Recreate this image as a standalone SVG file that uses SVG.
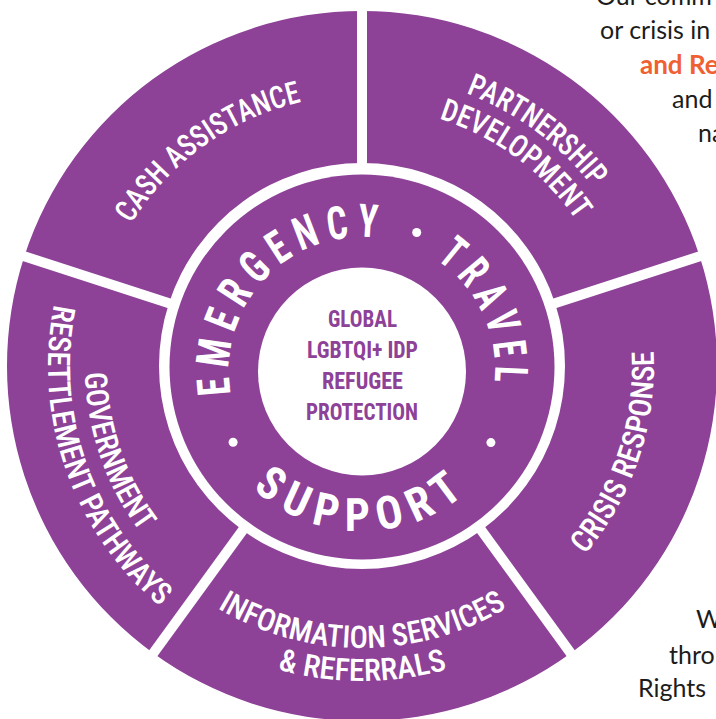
<svg xmlns="http://www.w3.org/2000/svg" width="716" height="719" viewBox="0 0 716 719">
<style>
.bg{fill:#ffffff}
.seg{fill:#8d4197}
.div{stroke:#ffffff;stroke-width:10;fill:none}
.ring{font-family:"Roboto Condensed","Liberation Sans Narrow","Arial Narrow","DejaVu Sans Condensed","Liberation Sans",sans-serif;font-stretch:condensed;fill:#ffffff}
.lab{font-size:31px;font-weight:500}
.big{font-size:46px;font-weight:700;letter-spacing:10px}
.core{font-family:"Roboto Condensed","Liberation Sans Narrow","Arial Narrow","Liberation Sans",sans-serif;font-stretch:condensed;font-size:23px;font-weight:700;fill:#8d4197;text-anchor:middle}
.page{font-family:Lato,"Open Sans","Liberation Sans",sans-serif;font-size:25px;fill:#1c1c1c}
.hl{fill:#ef6033;font-weight:700;font-size:26px}
</style>
<defs>
<path id="cw271" d="M362,637 A271,271 0 1,1 362,95 A271,271 0 1,1 362,637"/>
<path id="cw292" d="M362,658 A292,292 0 1,1 362,74 A292,292 0 1,1 362,658"/>
<path id="cw259" d="M362,625 A259,259 0 1,1 362,107 A259,259 0 1,1 362,625"/>
<path id="ccw292" d="M362,74 A292,292 0 1,0 362,658 A292,292 0 1,0 362,74"/>
<path id="ccw282" d="M362,84 A282,282 0 1,0 362,648 A282,282 0 1,0 362,84"/>
<path id="ccw315" d="M362,51 A315,315 0 1,0 362,681 A315,315 0 1,0 362,51"/>
<path id="ccw277" d="M362,89 A277,277 0 1,0 362,643 A277,277 0 1,0 362,89"/>
<path id="ccw314" d="M362,52 A314,314 0 1,0 362,680 A314,314 0 1,0 362,52"/>
<path id="inTop" d="M362,503 A133,133 0 1,1 362,237 A133,133 0 1,1 362,503"/>
<path id="inBot" d="M201,370 A161,161 0 0,0 523,370"/>
</defs>
<rect class="bg" x="0" y="0" width="716" height="719"/>

<g id="page-text" class="page">
<text x="596" y="5">Our comm</text>
<text x="600" y="39">or crisis in</text>
<text x="640" y="74" class="hl">and Re</text>
<text x="672" y="108">and</text>
<text x="698" y="142">na</text>
<text x="696" y="628">W</text>
<text x="669" y="664">thro</text>
<text x="638" y="697">Rights</text>
</g>

<g id="cash-assistance">
<path class="seg" d="M168.93,303.27 L24.37,256.3 A355,355 0 0,1 362,11 L362,163 A203,203 0 0,0 168.93,303.27 Z"/>
<text class="ring lab"><textPath href="#cw271" startOffset="682.5" text-anchor="middle" textLength="215" lengthAdjust="spacingAndGlyphs">CASH ASSISTANCE</textPath></text>
</g>

<g id="partnership-development">
<path class="seg" d="M362,163 L362,11 A355,355 0 0,1 699.63,256.3 L555.07,303.27 A203,203 0 0,0 362,163 Z"/>
<text class="ring lab"><textPath href="#cw292" startOffset="1103.3" text-anchor="middle" textLength="160" lengthAdjust="spacingAndGlyphs">PARTNERSHIP</textPath></text>
<text class="ring lab"><textPath href="#cw259" startOffset="978.6" text-anchor="middle" textLength="174" lengthAdjust="spacingAndGlyphs">DEVELOPMENT</textPath></text>
</g>

<g id="crisis-response">
<path class="seg" d="M555.07,303.27 L699.63,256.3 A355,355 0 0,1 570.67,653.2 L481.32,530.23 A203,203 0 0,0 555.07,303.27 Z"/>
<text class="ring lab"><textPath href="#ccw292" startOffset="1280.5" text-anchor="middle" textLength="220" lengthAdjust="spacingAndGlyphs">CRISIS RESPONSE</textPath></text>
</g>

<g id="information-services">
<path class="seg" d="M481.32,530.23 L570.67,653.2 A355,355 0 0,1 153.33,653.2 L242.68,530.23 A203,203 0 0,0 481.32,530.23 Z"/>
<text class="ring lab"><textPath href="#ccw282" startOffset="885.9" text-anchor="middle" textLength="304" lengthAdjust="spacingAndGlyphs">INFORMATION SERVICES</textPath></text>
<text class="ring lab"><textPath href="#ccw315" startOffset="989.6" text-anchor="middle" textLength="172" lengthAdjust="spacingAndGlyphs">&amp; REFERRALS</textPath></text>
</g>

<g id="government-resettlement">
<path class="seg" d="M242.68,530.23 L153.33,653.2 A355,355 0 0,1 24.37,256.3 L168.93,303.27 A203,203 0 0,0 242.68,530.23 Z"/>
<text class="ring lab"><textPath href="#ccw277" startOffset="527.5" text-anchor="middle" textLength="171" lengthAdjust="spacingAndGlyphs">GOVERNMENT</textPath></text>
<text class="ring lab"><textPath href="#ccw314" startOffset="599" text-anchor="middle" textLength="336" lengthAdjust="spacingAndGlyphs">RESETTLEMENT PATHWAYS</textPath></text>
</g>

<g id="connectors">
<line class="div" x1="362" y1="168" x2="362" y2="1"/>
<line class="div" x1="550.31" y1="304.81" x2="709.14" y2="253.21"/>
<line class="div" x1="478.38" y1="526.19" x2="576.54" y2="661.29"/>
<line class="div" x1="245.62" y1="526.19" x2="147.46" y2="661.29"/>
<line class="div" x1="173.69" y1="304.81" x2="14.86" y2="253.21"/>
</g>

<g id="emergency-travel-support">
<circle class="seg" cx="362" cy="367" r="192.5"/>
<text class="ring big"><textPath href="#inTop" startOffset="312.5" text-anchor="middle" textLength="256" lengthAdjust="spacingAndGlyphs">EMERGENCY</textPath></text>
<text class="ring big"><textPath href="#inTop" startOffset="570.6" text-anchor="middle" textLength="149" lengthAdjust="spacingAndGlyphs">TRAVEL</textPath></text>
<text class="ring big"><textPath href="#inBot" startOffset="50%" text-anchor="middle" textLength="240" lengthAdjust="spacingAndGlyphs">SUPPORT</textPath></text>
<circle cx="416.7" cy="232.5" r="4.5" fill="#ffffff"/>
<circle cx="490.9" cy="442.6" r="4.5" fill="#ffffff"/>
<circle cx="233.1" cy="442.2" r="4.5" fill="#ffffff"/>
</g>

<g id="global-protection">
<circle cx="362" cy="371.5" r="104" fill="#ffffff"/>
<text class="core" x="362.5" y="327" textLength="69" lengthAdjust="spacingAndGlyphs">GLOBAL</text>
<text class="core" x="362.5" y="358" textLength="111" lengthAdjust="spacingAndGlyphs">LGBTQI+ IDP</text>
<text class="core" x="362.5" y="389" textLength="81" lengthAdjust="spacingAndGlyphs">REFUGEE</text>
<text class="core" x="362" y="420" textLength="112" lengthAdjust="spacingAndGlyphs">PROTECTION</text>
</g>
</svg>
